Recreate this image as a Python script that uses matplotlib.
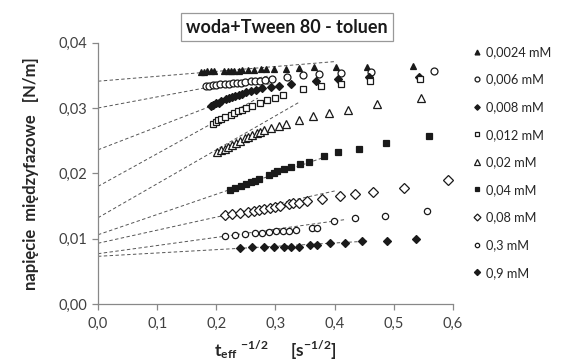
import numpy as np
import matplotlib
matplotlib.use('Agg')
import matplotlib.pyplot as plt
from matplotlib.ticker import FuncFormatter, MultipleLocator

plt.rcParams['font.family'] = ['Lato', 'DejaVu Sans']
plt.rcParams['mathtext.fontset'] = 'custom'
plt.rcParams['mathtext.rm'] = 'Lato'
plt.rcParams['mathtext.bf'] = 'Lato:bold'

# data: t_eff^-1/2 [s^-1/2] and interfacial tension [N/m]
labels = ['0,0024 mM', '0,006 mM', '0,008 mM', '0,012 mM', '0,02 mM',
          '0,04 mM', '0,08 mM', '0,3 mM', '0,9 mM']

x_0024 = [0.174, 0.180, 0.185, 0.191, 0.196, 0.213, 0.219, 0.224, 0.230, 0.239, 0.244,
          0.253, 0.264, 0.275, 0.284, 0.298, 0.318, 0.340, 0.365, 0.403, 0.454, 0.533]
y_0024 = [0.0355, 0.0355, 0.0356, 0.0356, 0.0356, 0.0356, 0.0357, 0.0357, 0.0357, 0.0357, 0.0358,
          0.0358, 0.0358, 0.0359, 0.0359, 0.0360, 0.0360, 0.0361, 0.0362, 0.0362, 0.0363, 0.0364]

x_006 = [0.182, 0.188, 0.194, 0.199, 0.206, 0.214, 0.221, 0.228, 0.235, 0.242, 0.249,
         0.258, 0.265, 0.274, 0.283, 0.294, 0.320, 0.346, 0.374, 0.411, 0.461, 0.568]
y_006 = [0.0333, 0.0334, 0.0335, 0.0335, 0.0336, 0.0337, 0.0337, 0.0338, 0.0339, 0.0339, 0.0340,
         0.0341, 0.0341, 0.0342, 0.0343, 0.0344, 0.0348, 0.0350, 0.0352, 0.0353, 0.0355, 0.0356]

x_008 = [0.191, 0.195, 0.200, 0.204, 0.208, 0.216, 0.221, 0.227, 0.232, 0.238, 0.244,
         0.250, 0.258, 0.267, 0.278, 0.292, 0.306, 0.326, 0.369, 0.406, 0.458, 0.543]
y_008 = [0.0303, 0.0305, 0.0307, 0.0308, 0.0310, 0.0313, 0.0315, 0.0317, 0.0319, 0.0320, 0.0322,
         0.0324, 0.0326, 0.0328, 0.0330, 0.0332, 0.0334, 0.0336, 0.0341, 0.0344, 0.0348, 0.0348]

x_012 = [0.194, 0.199, 0.203, 0.208, 0.215, 0.225, 0.230, 0.236, 0.243, 0.251, 0.261,
         0.273, 0.286, 0.299, 0.313, 0.346, 0.377, 0.410, 0.460, 0.545]
y_012 = [0.0276, 0.0279, 0.0281, 0.0283, 0.0286, 0.0290, 0.0292, 0.0295, 0.0297, 0.0300, 0.0303,
         0.0307, 0.0312, 0.0316, 0.0320, 0.0329, 0.0334, 0.0337, 0.0341, 0.0345]

x_02 = [0.202, 0.208, 0.214, 0.220, 0.227, 0.233, 0.240, 0.249, 0.254, 0.261, 0.268,
        0.274, 0.281, 0.292, 0.306, 0.318, 0.340, 0.364, 0.390, 0.423, 0.471, 0.546]
y_02 = [0.0232, 0.0235, 0.0238, 0.0241, 0.0244, 0.0247, 0.0250, 0.0254, 0.0256, 0.0259, 0.0262,
        0.0264, 0.0266, 0.0269, 0.0273, 0.0275, 0.0282, 0.0287, 0.0292, 0.0297, 0.0306, 0.0315]

x_04 = [0.223, 0.232, 0.242, 0.250, 0.258, 0.266, 0.272, 0.289, 0.297, 0.303, 0.315,
        0.326, 0.342, 0.357, 0.382, 0.406, 0.441, 0.486, 0.560]
y_04 = [0.0174, 0.0177, 0.0180, 0.0184, 0.0186, 0.0189, 0.0191, 0.0197, 0.0200, 0.0203, 0.0207,
        0.0210, 0.0214, 0.0218, 0.0227, 0.0233, 0.0238, 0.0247, 0.0257]

x_08 = [0.215, 0.227, 0.240, 0.253, 0.264, 0.272, 0.281, 0.291, 0.300, 0.307, 0.323,
        0.330, 0.339, 0.354, 0.378, 0.409, 0.434, 0.465, 0.517, 0.591]
y_08 = [0.0136, 0.0137, 0.0139, 0.0141, 0.0142, 0.0144, 0.0145, 0.0147, 0.0149, 0.0150, 0.0153,
        0.0154, 0.0155, 0.0157, 0.0161, 0.0165, 0.0168, 0.0171, 0.0177, 0.0190]

x_3 = [0.215, 0.232, 0.249, 0.266, 0.278, 0.289, 0.301, 0.312, 0.323, 0.334, 0.361,
       0.371, 0.399, 0.435, 0.485, 0.556]
y_3 = [0.0104, 0.0106, 0.0107, 0.0108, 0.0109, 0.0110, 0.0111, 0.0112, 0.0112, 0.0113, 0.0116,
       0.0117, 0.0127, 0.0132, 0.0135, 0.0142]

x_9 = [0.240, 0.261, 0.280, 0.298, 0.314, 0.326, 0.339, 0.358, 0.371, 0.392, 0.418,
       0.446, 0.488, 0.538]
y_9 = [0.0086, 0.0087, 0.0087, 0.0088, 0.0088, 0.0088, 0.0088, 0.0090, 0.0090, 0.0093, 0.0094,
       0.0096, 0.0097, 0.0100]

# extrapolation lines (dashed)
fit_b = [0.0341, 0.0300, 0.0236, 0.0180, 0.0132, 0.0106, 0.0093, 0.0077, 0.0073]
fit_a = [0.0075, 0.0170, 0.0350, 0.0500, 0.0520, 0.0310, 0.0200, 0.0125, 0.0051]
fit_end = [0.40, 0.29, 0.29, 0.27, 0.34, 0.39, 0.40, 0.42, 0.455]

xs = [x_0024, x_006, x_008, x_012, x_02, x_04, x_08, x_3, x_9]
ys = [y_0024, y_006, y_008, y_012, y_02, y_04, y_08, y_3, y_9]
markers = ['^', 'o', 'D', 's', '^', 's', 'D', 'o', 'D']
filled = [True, False, True, False, False, True, False, False, True]
msize = [5, 5, 4, 4.3, 5.5, 5, 5, 4.5, 4.5]

fig = plt.figure(figsize=(5.68, 3.63), dpi=100)
ax = fig.add_axes([0.1725, 0.1625, 0.625, 0.72])

for i in range(9):
    xl = np.array([0, fit_end[i]])
    ax.plot(xl, fit_b[i] + fit_a[i] * xl, ls=(0, (3.5, 2.5)), color='#555555', lw=0.7, zorder=1)

handles = []
for i in range(9):
    fc = '#1a1a1a' if filled[i] else 'white'
    h, = ax.plot(xs[i], ys[i], ls='none', marker=markers[i], ms=msize[i],
                 mfc=fc, mec='#1a1a1a', mew=0.9, zorder=3, label=labels[i])
    handles.append(h)

ax.set_xlim(0, 0.6)
ax.set_ylim(0, 0.04)
ax.xaxis.set_major_locator(MultipleLocator(0.1))
ax.yaxis.set_major_locator(MultipleLocator(0.01))
ax.xaxis.set_major_formatter(FuncFormatter(lambda v, p: ('%.1f' % v).replace('.', ',')))
ax.yaxis.set_major_formatter(FuncFormatter(lambda v, p: ('%.2f' % v).replace('.', ',')))
for s in ['top', 'right']:
    ax.spines[s].set_visible(False)
for s in ['left', 'bottom']:
    ax.spines[s].set_color('#888888')
    ax.spines[s].set_linewidth(0.9)
ax.tick_params(direction='out', length=4, width=0.9, color='#888888',
               labelsize=10.5, labelcolor='#404040')
ax.tick_params(axis='x', pad=5)

ax.set_ylabel('napięcie  międzyfazowe   [N/m]', fontsize=12, fontweight='bold',
              color='#262626', labelpad=14)
ax.set_xlabel(r'$\mathbf{t_{eff}}^{\ \mathbf{-1/2}}\ \ \ \ \mathbf{[s^{-1/2}]}$',
              fontsize=12.5, color='#262626', labelpad=6)

fig.text(0.505, 0.925, 'woda+Tween 80 - toluen', ha='center', va='center',
         fontsize=13, fontweight='bold', color='#1a1a1a',
         bbox=dict(boxstyle='square,pad=0.3', fc='white', ec='#999999', lw=0.9))

ax.legend(handles=handles, loc='upper left', bbox_to_anchor=(0.81, 0.905),
          bbox_transform=fig.transFigure, frameon=False, fontsize=9.2,
          markerscale=0.7, handlelength=0.8, handletextpad=0.35, labelspacing=1.22,
          labelcolor='#262626')

fig.savefig('out.png', dpi=100)
